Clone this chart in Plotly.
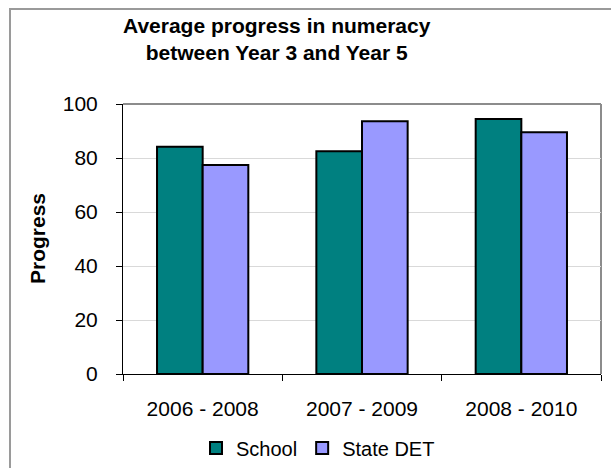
import plotly.graph_objects as go

# Average progress in numeracy, Year 3 -> Year 5
periods = ["2006 - 2008", "2007 - 2009", "2008 - 2010"]
school = [84.2, 82.5, 94.4]
state_det = [77.4, 93.6, 89.5]
y_ticks = [0, 20, 40, 60, 80, 100]

W, H = 611, 468
L, R, T, B = 123, 10, 104, 94
pw, ph = W - L - R, H - T - B

FONT = "Liberation Sans, Arial, sans-serif"
FS = 21


def px_x(px):
    return (px - L) / pw


def px_y(py):
    return (H - B - py) / ph


fig = go.Figure()
fig.add_trace(go.Bar(
    name="School", x=periods, y=school,
    marker=dict(color="#008080", line=dict(color="#000000", width=2)),
))
fig.add_trace(go.Bar(
    name="State DET", x=periods, y=state_det,
    marker=dict(color="#9999FF", line=dict(color="#000000", width=2)),
))

fig.update_layout(
    width=W, height=H,
    margin=dict(l=L, r=R, t=T, b=B, autoexpand=False),
    paper_bgcolor="white", plot_bgcolor="white",
    font=dict(family=FONT, size=FS, color="#000000"),
    barmode="group", bargap=0.427, bargroupgap=0,
    showlegend=True,
    legend=dict(
        orientation="h", x=px_x(196), xanchor="left",
        y=px_y(448), yanchor="middle",
        font=dict(family=FONT, size=20),
        bgcolor="rgba(0,0,0,0)", itemclick=False,
    ),
)

fig.update_xaxes(
    type="category", showline=True, linecolor="#000000", linewidth=1,
    ticks="outside", tickson="boundaries", ticklen=6, tickcolor="#000000",
    showgrid=False, ticklabelstandoff=16, fixedrange=True,
)
fig.update_yaxes(
    range=[0, 100], tickvals=y_ticks, showline=True, linecolor="#000000",
    linewidth=1, ticks="outside", ticklen=6, tickcolor="#000000",
    showgrid=True, gridcolor="#d9d9d9", gridwidth=1, zeroline=False,
    ticklabelstandoff=14, fixedrange=True,
)

# chart title
fig.add_annotation(
    text="<b>Average progress in numeracy<br>between Year 3 and Year 5</b>",
    xref="paper", yref="paper", x=px_x(277), y=px_y(12),
    xanchor="center", yanchor="top", showarrow=False, align="center",
    font=dict(family=FONT, size=FS, color="#000000"),
)

# y-axis caption
fig.add_annotation(
    text="<b>Progress</b>", textangle=-90, xref="paper", yref="paper",
    x=px_x(37), y=0.5, xanchor="center", yanchor="middle", showarrow=False,
    font=dict(family=FONT, size=FS, color="#000000"),
)

# plot-area frame (top and right) and chart-area border
fig.add_shape(type="line", xref="paper", yref="paper", x0=0, x1=1, y0=1, y1=1,
              line=dict(color="#8c8c8c", width=2), layer="below")
fig.add_shape(type="line", xref="paper", yref="paper", x0=1, x1=1, y0=0, y1=1,
              line=dict(color="#8c8c8c", width=2), layer="below")
fig.add_shape(type="rect", xref="paper", yref="paper",
              x0=px_x(10), x1=px_x(640), y0=px_y(500), y1=px_y(9),
              line=dict(color="#9a9a9a", width=2), fillcolor="rgba(0,0,0,0)")

fig.write_html("out.html", config={"displayModeBar": False})
